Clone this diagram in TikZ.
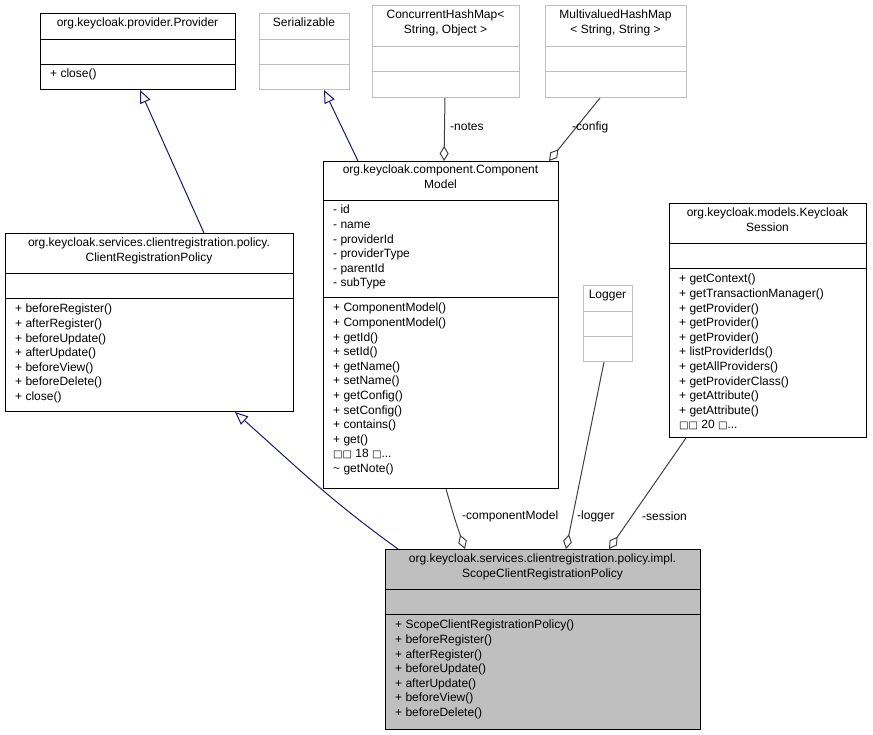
\documentclass[tikz,border=0pt]{standalone}
\usepackage{fontspec}
\setmainfont{Liberation Sans}
\newfontfamily\symf{DejaVu Sans}
\usetikzlibrary{arrows.meta}
\definecolor{navy}{HTML}{191970}
\definecolor{lgray}{HTML}{BFBFBF}
\definecolor{egray}{HTML}{404040}
\newcommand{\bx}{{\symf\fontsize{10}{10}\selectfont □}}
\tikzset{
  box/.style={draw=black, line width=1pt, anchor=north west, inner sep=0pt},
  gbox/.style={draw=lgray, line width=1pt, anchor=north west, inner sep=0pt},
  ttl/.style={anchor=north, inner sep=0pt, align=center, font=\fontsize{12}{14.5}\selectfont},
  mem/.style={anchor=north west, inner sep=0pt, align=left, font=\fontsize{12}{14.6}\selectfont},
  inh/.style={draw=navy, line width=1pt, -{Triangle[open,length=13pt,width=11pt]}},
  agg/.style={draw=egray, line width=1pt, -{Diamond[open,length=15pt,width=9pt]}},
  lbl/.style={inner sep=0pt, anchor=west, font=\fontsize{12}{14}\selectfont}
}
\begin{document}
\begin{tikzpicture}[x=1pt,y=-1pt]
\useasboundingbox (0,0) rectangle (873,735);
% Provider
\node[box, minimum width=195, minimum height=76] (prov) at (40,13) {};
\draw (40,39) -- (235,39) (40,64) -- (235,64);
\node[ttl] at (137.5,18) {org.keycloak.provider.Provider};
\node[mem] at (50,69) {+ close()};
% Serializable
\node[gbox, minimum width=90, minimum height=76] (ser) at (259,13) {};
\draw[lgray] (259,39) -- (349,39) (259,64) -- (349,64);
\node[ttl] at (304,18) {Serializable};
% ConcurrentHashMap
\node[gbox, minimum width=147, minimum height=92] (chm) at (372,5) {};
\draw[lgray] (372,46) -- (519,46) (372,71) -- (519,71);
\node[ttl] at (445.5,10) {ConcurrentHashMap<\\String, Object >};
% MultivaluedHashMap
\node[gbox, minimum width=141, minimum height=92] (mhm) at (545,5) {};
\draw[lgray] (545,46) -- (686,46) (545,71) -- (686,71);
\node[ttl] at (615.5,10) {MultivaluedHashMap\\< String, String >};
% ComponentModel
\node[box, minimum width=235, minimum height=327] (cm) at (323,161) {};
\draw (323,200) -- (558,200) (323,297) -- (558,297);
\node[ttl] at (440.5,165) {org.keycloak.component.Component\\Model};
\node[mem] at (333,205) {- id\\- name\\- providerId\\- providerType\\- parentId\\- subType};
\node[mem] at (333,303) {+ ComponentModel()\\+ ComponentModel()\\+ getId()\\+ setId()\\+ getName()\\+ setName()\\+ getConfig()\\+ setConfig()\\+ contains()\\+ get()\\\bx\bx{} 18 \bx...\\\textasciitilde{} getNote()};
% ClientRegistrationPolicy
\node[box, minimum width=288, minimum height=178] (crp) at (5,233) {};
\draw (5,273) -- (293,273) (5,298) -- (293,298);
\node[ttl] at (149,238) {org.keycloak.services.clientregistration.policy.\\ClientRegistrationPolicy};
\node[mem] at (15,304) {+ beforeRegister()\\+ afterRegister()\\+ beforeUpdate()\\+ afterUpdate()\\+ beforeView()\\+ beforeDelete()\\+ close()};
% Logger
\node[gbox, minimum width=49, minimum height=76] (log) at (583,285) {};
\draw[lgray] (583,311) -- (632,311) (583,336) -- (632,336);
\node[ttl] at (607.5,290) {Logger};
% KeycloakSession
\node[box, minimum width=197, minimum height=234] (ks) at (669,203) {};
\draw (669,243) -- (866,243) (669,268) -- (866,268);
\node[ttl] at (767.5,208) {org.keycloak.models.Keycloak\\Session};
\node[mem] at (679,274) {+ getContext()\\+ getTransactionManager()\\+ getProvider()\\+ getProvider()\\+ getProvider()\\+ listProviderIds()\\+ getAllProviders()\\+ getProviderClass()\\+ getAttribute()\\+ getAttribute()\\\bx\bx{} 20 \bx...};
% Scope
\node[box, fill=lgray, minimum width=315, minimum height=180] (scp) at (385,549) {};
\draw (385,589) -- (700,589) (385,614) -- (700,614);
\node[ttl] at (542.5,554) {org.keycloak.services.clientregistration.policy.impl.\\ScopeClientRegistrationPolicy};
\node[mem] at (395,620) {+ ScopeClientRegistrationPolicy()\\+ beforeRegister()\\+ afterRegister()\\+ beforeUpdate()\\+ afterUpdate()\\+ beforeView()\\+ beforeDelete()};
% edges
\draw[inh] ([xshift=-90]crp.north east) -- ([xshift=-96]prov.south east);
\draw[inh] ([xshift=35]cm.north west) -- ([xshift=-26]ser.south east);
\draw[inh] ([xshift=13]scp.north west) .. controls (330,500) and (300,470) .. ([xshift=-59]crp.south east);
\draw[agg] ([xshift=73]chm.south west) -- ([xshift=121]cm.north west);
\node[lbl] at (450,127) {-notes};
\draw[agg] ([xshift=55]mhm.south west) -- ([xshift=-10]cm.north east);
\node[lbl] at (572,127) {-config};
\draw[agg] ([xshift=123]cm.south west) .. controls (455,520) .. ([xshift=80]scp.north west);
\node[lbl] at (462,516) {-componentModel};
\draw[agg] ([xshift=21]log.south west) -- ([xshift=181]scp.north west);
\node[lbl] at (577,516) {-logger};
\draw[agg] ([xshift=17]ks.south west) -- ([xshift=224]scp.north west);
\node[lbl] at (642,516) {-session};
\end{tikzpicture}
\end{document}
